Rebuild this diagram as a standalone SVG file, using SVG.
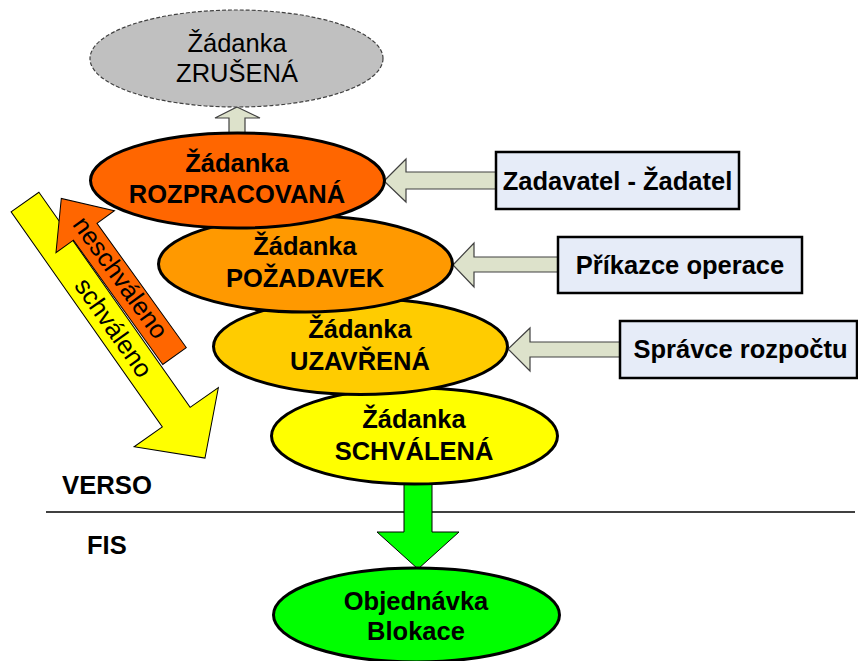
<svg xmlns="http://www.w3.org/2000/svg" width="858" height="661" viewBox="0 0 858 661">
<style>
text{font-family:"Liberation Sans",Arial,sans-serif;font-size:25.5px;fill:#000}
.b{font-weight:bold}
.mid{text-anchor:middle}
.el{stroke:#000;stroke-width:3}
.box{fill:#e6ecf8;stroke:#000;stroke-width:2.5}
.ga{fill:#dde2cb;stroke:#404040;stroke-width:1.2}
</style>
<rect width="858" height="661" fill="#fff"/>

<g id="labels">
<line x1="46" y1="512" x2="855" y2="512" stroke="#000" stroke-width="1.5"/>
<text class="b" x="62" y="494" textLength="90" lengthAdjust="spacingAndGlyphs">VERSO</text>
<text class="b" x="87" y="554">FIS</text>
</g>

<g id="connectors">
<!-- up arrow to ZRUSENA -->
<path class="ga" d="M237,107 L260,118 L245,118 L245,140 L229,140 L229,118 L215,118 Z"/>
<!-- left arrows from boxes -->
<path class="ga" d="M384,181 L406,159 L406,172 L497,172 L497,189 L406,189 L406,202 Z"/>
<path class="ga" d="M453,265 L474,243 L474,257 L559,257 L559,272 L474,272 L474,287 Z"/>
<path class="ga" d="M508,349 L530,328 L530,342 L621,342 L621,357 L530,357 L530,371 Z"/>
<!-- green arrow -->
<path d="M404,480 L432,480 L432,532 L459,532 L418,569 L377,532 L404,532 Z" fill="#00ff00" stroke="#000" stroke-width="1"/>
<!-- yellow arrow schvaleno -->
<g transform="translate(25,202) rotate(54.9)">
<path d="M0,-17 L263,-17 L263,-51.5 L313,0 L263,51.5 L263,17 L0,17 Z" fill="#ffff00" stroke="#000" stroke-width="1"/>
</g>
<!-- orange arrow neschvaleno -->
<g transform="translate(174.5,356) rotate(234.3)">
<path d="M0,-14.5 L153,-14.5 L153,-36 L194,0 L153,36 L153,14.5 L0,14.5 Z" fill="#ff6600" stroke="#000" stroke-width="1"/>
</g>
<text class="mid" transform="translate(113,328) rotate(54.9)" dy="8">schváleno</text>
<text class="mid" transform="translate(120,278) rotate(54.3)" dy="8">neschváleno</text>
</g>

<g id="zrusena">
<ellipse cx="236.5" cy="58.5" rx="146.5" ry="48.5" fill="#c0c0c0" stroke="#404040" stroke-width="1.2" stroke-dasharray="4,2"/>
<text class="mid" x="237" y="52">Žádanka</text>
<text class="mid" x="237" y="82">ZRUŠENÁ</text>
</g>

<g id="objednavka">
<ellipse class="el" cx="416.5" cy="615" rx="143" ry="47" fill="#00ff00"/>
<text class="b mid" x="416" y="610">Objednávka</text>
<text class="b mid" x="416" y="640">Blokace</text>
</g>

<g id="schvalena">
<ellipse class="el" cx="414.5" cy="436" rx="143" ry="48" fill="#ffff00"/>
<text class="b mid" x="414" y="428">Žádanka</text>
<text class="b mid" x="414" y="460">SCHVÁLENÁ</text>
</g>

<g id="uzavrena">
<ellipse class="el" cx="360.5" cy="346.5" rx="147" ry="48" fill="#ffcc00"/>
<text class="b mid" x="360" y="338">Žádanka</text>
<text class="b mid" x="360" y="370">UZAVŘENÁ</text>
</g>

<g id="pozadavek">
<ellipse class="el" cx="305.5" cy="264" rx="147" ry="48" fill="#ff9900"/>
<text class="b mid" x="305" y="255">Žádanka</text>
<text class="b mid" x="305" y="287">POŽADAVEK</text>
</g>

<g id="rozpracovana">
<ellipse class="el" cx="237.5" cy="180.5" rx="147" ry="47.5" fill="#ff6600"/>
<text class="b mid" x="237" y="172">Žádanka</text>
<text class="b mid" x="237" y="203">ROZPRACOVANÁ</text>
</g>

<g id="zadavatel">
<rect class="box" x="496" y="152" width="243" height="57"/>
<text class="b mid" x="617.5" y="190">Zadavatel - Žadatel</text>
</g>
<g id="prikazce">
<rect class="box" x="558" y="237" width="244" height="56"/>
<text class="b mid" x="680" y="274">Příkazce operace</text>
</g>
<g id="spravce">
<rect class="box" x="620" y="321" width="237" height="57"/>
<text class="b mid" x="740.5" y="358">Správce rozpočtu</text>
</g>
</svg>
